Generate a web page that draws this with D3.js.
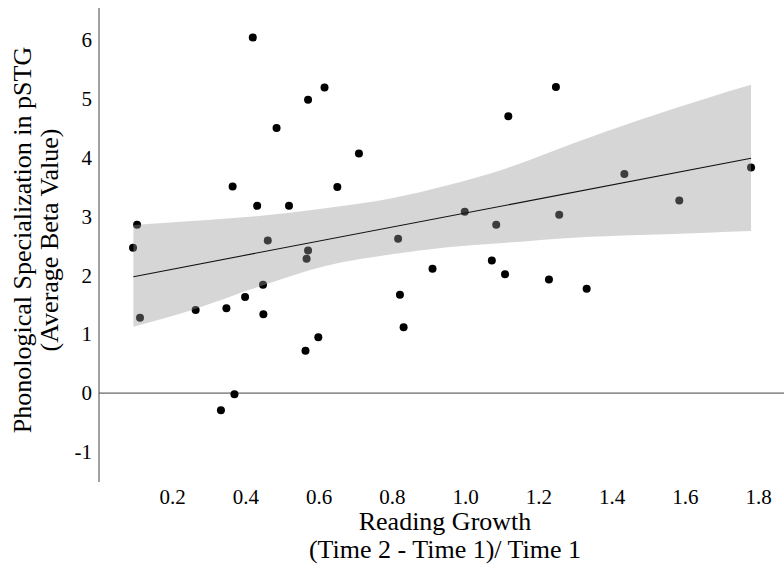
<!DOCTYPE html>
<html>
<head>
<meta charset="utf-8">
<script src="https://cdn.jsdelivr.net/npm/d3@7"></script>
<style>
  html, body { margin: 0; padding: 0; background: #fff; }
  svg text { font-family: "Liberation Serif", "Times New Roman", serif; fill: #000; }
</style>
</head>
<body>
<div id="chart"></div>
<script>
// reading growth (x) and average beta value (y)
const growth = [
  0.420, 0.616, 0.571, 0.485, 0.710, 0.365, 0.651, 0.432, 0.519, 0.104,
  0.461, 0.093, 0.571, 0.567, 0.448, 0.399, 0.264, 0.348, 0.449, 0.112,
  0.599, 0.564, 0.370, 0.333, 1.248, 1.118, 1.781, 1.435, 0.999, 1.585,
  1.257, 1.085, 0.817, 0.911, 1.073, 1.109, 1.229, 1.332, 0.822, 0.832
];
const beta = [
  6.04, 5.19, 4.98, 4.50, 4.07, 3.51, 3.50, 3.18, 3.18, 2.86,
  2.59, 2.47, 2.42, 2.28, 1.84, 1.63, 1.41, 1.44, 1.34, 1.28,
  0.95, 0.72, -0.02, -0.29, 5.20, 4.70, 3.83, 3.72, 3.08, 3.27,
  3.03, 2.86, 2.62, 2.11, 2.25, 2.02, 1.93, 1.77, 1.67, 1.12
];

// fitted line and 95% confidence band
const fitX = [0.094, 1.781];
const fitY = [1.977, 3.989];
const bandX = [0.094, 0.254, 0.436, 0.618, 0.800, 0.952, 1.114, 1.296, 1.478, 1.660, 1.781];
const bandUpper = [2.856, 2.924, 3.009, 3.140, 3.310, 3.530, 3.820, 4.244, 4.641, 5.009, 5.235];
const bandLower = [1.127, 1.411, 1.807, 2.159, 2.358, 2.478, 2.555, 2.640, 2.686, 2.725, 2.754];

const xTicks = [0.2, 0.4, 0.6, 0.8, 1.0, 1.2, 1.4, 1.6, 1.8];
const yTicks = [-1, 0, 1, 2, 3, 4, 5, 6];

const width = 784, height = 571;
const serif = '"Liberation Serif", "Times New Roman", serif';

const svg = d3.select('#chart').append('svg')
  .attr('width', width)
  .attr('height', height);

const x = d3.scaleLinear().domain([0, 1.871]).range([99, 784]);
const y = d3.scaleLinear().domain([-1.51, 6.54]).range([482, 8]);

// y axis line and zero line
svg.append('line')
  .attr('x1', x(0)).attr('x2', x(0))
  .attr('y1', y.range()[1]).attr('y2', y.range()[0])
  .attr('stroke', '#444').attr('stroke-width', 1);
svg.append('line')
  .attr('x1', x(0)).attr('x2', width)
  .attr('y1', y(0)).attr('y2', y(0))
  .attr('stroke', '#444').attr('stroke-width', 1);

// points
svg.append('g')
  .selectAll('circle')
  .data(growth)
  .join('circle')
  .attr('cx', d => x(d))
  .attr('cy', (d, i) => y(beta[i]))
  .attr('r', 4)
  .attr('fill', '#000');

// ribbon on top of the points, like ggplot's geom_smooth
const band = bandX.map((d, i) => ({ gx: d, lo: bandLower[i], hi: bandUpper[i] }));
svg.append('path')
  .datum(band)
  .attr('d', d3.area()
    .x(d => x(d.gx)).y0(d => y(d.lo)).y1(d => y(d.hi))
    .curve(d3.curveMonotoneX))
  .attr('fill', '#999999')
  .attr('fill-opacity', 0.4);

svg.append('path')
  .datum(fitX.map((d, i) => [d, fitY[i]]))
  .attr('d', d3.line().x(d => x(d[0])).y(d => y(d[1])))
  .attr('fill', 'none')
  .attr('stroke', '#111')
  .attr('stroke-width', 1.1);

// tick labels (no tick marks)
const yAxis = svg.append('g')
  .attr('transform', `translate(${x(0)},0)`)
  .call(d3.axisLeft(y).tickValues(yTicks).tickSize(0).tickPadding(7).tickFormat(d => String(d)));
yAxis.select('.domain').remove();
yAxis.selectAll('text')
  .style('font-family', serif)
  .style('font-size', '21px')
  .attr('fill', '#000');

const xAxis = svg.append('g')
  .attr('transform', `translate(0,483)`)
  .call(d3.axisBottom(x).tickValues(xTicks).tickSize(0).tickPadding(6).tickFormat(d3.format('.1f')));
xAxis.select('.domain').remove();
xAxis.selectAll('text')
  .style('font-family', serif)
  .style('font-size', '21px')
  .attr('fill', '#000');

// axis titles
svg.append('text')
  .attr('x', 445).attr('y', 530)
  .attr('text-anchor', 'middle')
  .style('font-size', '26px')
  .text('Reading Growth');
svg.append('text')
  .attr('x', 445).attr('y', 558)
  .attr('text-anchor', 'middle')
  .style('font-size', '26px')
  .text('(Time 2 - Time 1)/ Time 1');

svg.append('text')
  .attr('transform', 'translate(31,240) rotate(-90)')
  .attr('text-anchor', 'middle')
  .style('font-size', '26px')
  .text('Phonological Specialization in pSTG');
svg.append('text')
  .attr('transform', 'translate(58,240) rotate(-90)')
  .attr('text-anchor', 'middle')
  .style('font-size', '26px')
  .text('(Average Beta Value)');
</script>
</body>
</html>
